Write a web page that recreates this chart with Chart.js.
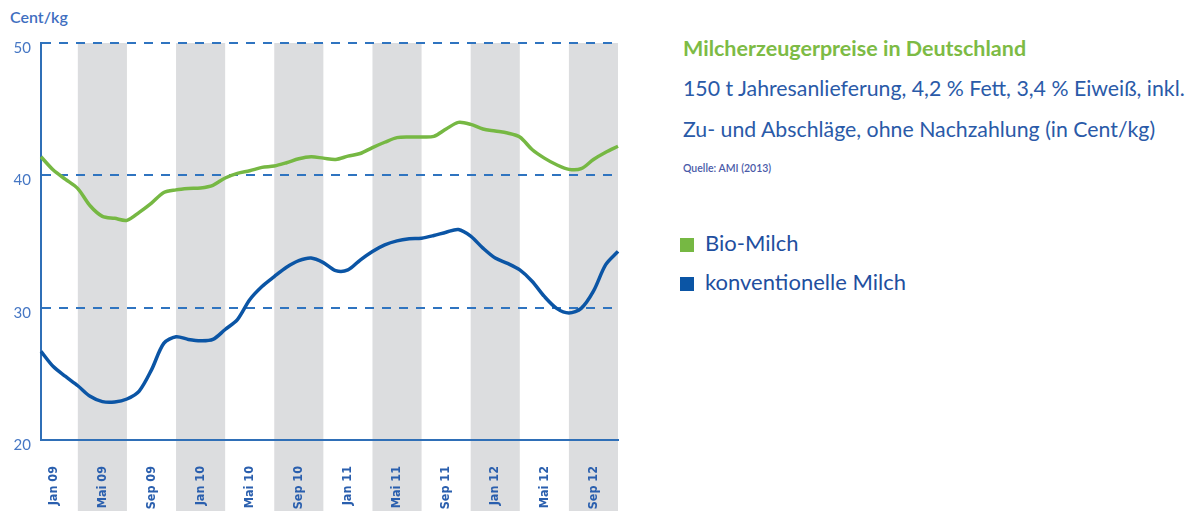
<!DOCTYPE html>
<html>
<head>
<meta charset="utf-8">
<script src="https://cdn.jsdelivr.net/npm/chart.js@4"></script>
<style>
    body { margin: 0; background: #fff; width: 1196px; height: 511px; overflow: hidden; position: relative; font-family: Lato, 'Noto Sans', sans-serif; }
    .box { position: absolute; white-space: nowrap; }
    #chart-wrap { position: absolute; left: 0; top: 0; width: 630px; height: 511px; }
    .unit { left: 10px; top: 7px; font-size: 16px; line-height: 20px; font-weight: 600; color: #3f6fbf; }
    .title { left: 683px; top: 35px; font-size: 21.5px; line-height: 26px; font-weight: bold; color: #7dbb45; }
    .sub { left: 683px; font-size: 21.3px; line-height: 26px; color: #2a5aa8; }
    .source { left: 683px; top: 161px; font-size: 10.5px; line-height: 14px; font-weight: 600; color: #4a5aa8; }
    .legend { left: 680px; font-size: 22px; line-height: 26px; color: #1f4f9f; }
    .legend span { display: inline-block; width: 14px; height: 14px; margin-right: 11px; vertical-align: -1px; }
</style>
</head>
<body>
<div class="box unit">Cent/kg</div>
<div id="chart-wrap"><canvas id="milk-chart"></canvas></div>
<div class="box title">Milcherzeugerpreise in Deutschland</div>
<div class="box sub" style="top:75px">150 t Jahresanlieferung, 4,2 % Fett, 3,4 % Eiweiß, inkl.</div>
<div class="box sub" style="top:116px">Zu- und Abschläge, ohne Nachzahlung (in Cent/kg)</div>
<div class="box source">Quelle: AMI (2013)</div>
<div class="box legend" style="top:230px"><span style="background:#76b843"></span>Bio-Milch</div>
<div class="box legend" style="top:269px"><span style="background:#0b55a5"></span>konventionelle Milch</div>
<script>
//? Data
const months = [
    'Dez 08',
    'Jan 09', 'Feb 09', 'Mär 09', 'Apr 09', 'Mai 09', 'Jun 09', 'Jul 09', 'Aug 09', 'Sep 09', 'Okt 09', 'Nov 09', 'Dez 09',
    'Jan 10', 'Feb 10', 'Mär 10', 'Apr 10', 'Mai 10', 'Jun 10', 'Jul 10', 'Aug 10', 'Sep 10', 'Okt 10', 'Nov 10', 'Dez 10',
    'Jan 11', 'Feb 11', 'Mär 11', 'Apr 11', 'Mai 11', 'Jun 11', 'Jul 11', 'Aug 11', 'Sep 11', 'Okt 11', 'Nov 11', 'Dez 11',
    'Jan 12', 'Feb 12', 'Mär 12', 'Apr 12', 'Mai 12', 'Jun 12', 'Jul 12', 'Aug 12', 'Sep 12', 'Okt 12', 'Nov 12'
]

const tickLabels = ['Jan 09', 'Mai 09', 'Sep 09', 'Jan 10', 'Mai 10', 'Sep 10', 'Jan 11', 'Mai 11', 'Sep 11', 'Jan 12', 'Mai 12', 'Sep 12']

// months that sit in the middle of a grey band
const bandMonths = ['Mai 09', 'Jan 10', 'Sep 10', 'Mai 11', 'Jan 12', 'Sep 12']

const bioMilch = [
    41.4, 40.4, 39.7, 39.0, 37.7, 36.9, 36.75, 36.6, 37.2, 37.9, 38.7, 38.9,
    39.0, 39.05, 39.25, 39.8, 40.15, 40.35, 40.6, 40.7, 40.95, 41.25, 41.4, 41.3,
    41.2, 41.45, 41.65, 42.1, 42.5, 42.85, 42.9, 42.9, 42.95, 43.5, 44.0, 43.85,
    43.5, 43.35, 43.2, 42.9, 41.95, 41.3, 40.8, 40.45, 40.5, 41.2, 41.75, 42.2
]

const konvMilch = [
    26.7, 25.55, 24.8, 24.1, 23.3, 22.9, 22.87, 23.1, 23.7, 25.3, 27.3, 27.8,
    27.6, 27.5, 27.6, 28.35, 29.1, 30.6, 31.6, 32.35, 33.05, 33.55, 33.75, 33.4,
    32.8, 32.85, 33.6, 34.25, 34.75, 35.05, 35.2, 35.25, 35.45, 35.7, 35.9, 35.4,
    34.5, 33.75, 33.35, 32.85, 32.0, 30.85, 29.95, 29.6, 29.95, 31.25, 33.25, 34.25
]

const yTicks = [20, 30, 40, 50]

//? grey bands behind everything, reaching down under the labels
const bandsPlugin = {
    id: 'bands',
    beforeDraw(chart) {
        const { ctx, chartArea, scales: { x } } = chart
        ctx.save()
        ctx.fillStyle = '#dcdddf'
        bandMonths.forEach(m => {
            const i = months.indexOf(m)
            const left = x.getPixelForValue(Math.max(i - 2, 0))
            const right = x.getPixelForValue(Math.min(i + 2, months.length - 1))
            ctx.fillRect(left, chartArea.top, right - left, chart.height - chartArea.top)
        })
        ctx.restore()
    }
}

const dataMilk = {
    labels: months,
    datasets: [
        {
            label: 'Bio-Milch',
            data: bioMilch,
            borderColor: '#76b843',
            borderWidth: 3.5,
            pointRadius: 0,
            tension: .3
        },
        {
            label: 'konventionelle Milch',
            data: konvMilch,
            borderColor: '#0b55a5',
            borderWidth: 3.5,
            pointRadius: 0,
            tension: .3
        }
    ]
}

const configMilk = {
    type: 'line',
    data: dataMilk,
    plugins: [bandsPlugin],
    options: {
        responsive: true,
        maintainAspectRatio: false,
        animation: false,
        layout: { padding: { top: 43, right: 12, left: 0, bottom: 0 } },
        plugins: {
            legend: { display: false },
            tooltip: { enabled: false }
        },
        scales: {
            x: {
                offset: false,
                grid: { display: false },
                border: { display: true, color: '#2f6fb7', width: 2 },
                ticks: {
                    autoSkip: false,
                    minRotation: 90,
                    maxRotation: 90,
                    padding: 18,
                    color: '#2a5fae',
                    font: { family: "'Liberation Sans Narrow', 'DejaVu Sans Condensed', sans-serif", size: 12.5, weight: 'bold' },
                    callback: function (value) {
                        const lbl = this.getLabelForValue(value)
                        return tickLabels.includes(lbl) ? lbl : ''
                    }
                },
                afterFit: scale => {
                    scale.height = 71
                    scale.paddingLeft = 0
                    scale.paddingRight = 0
                }
            },
            y: {
                min: 20,
                max: 50,
                afterBuildTicks: scale => { scale.ticks = yTicks.map(v => ({ value: v })) },
                grid: {
                    drawTicks: false,
                    lineWidth: 2,
                    color: ctx => ctx.tick && ctx.tick.value === 20 ? 'rgba(0,0,0,0)' : '#2f74c0'
                },
                border: { display: true, color: '#2f6fb7', width: 2, dash: [9, 8] },
                ticks: {
                    padding: 10,
                    labelOffset: 5,
                    color: '#4677c4',
                    font: { family: "Lato, 'Noto Sans', sans-serif", size: 15 }
                },
                afterFit: scale => { scale.width = 41 }
            }
        }
    }
}

const milkCanvas = document.getElementById('milk-chart')

const milkChart = new Chart(milkCanvas, configMilk)
</script>
</body>
</html>
